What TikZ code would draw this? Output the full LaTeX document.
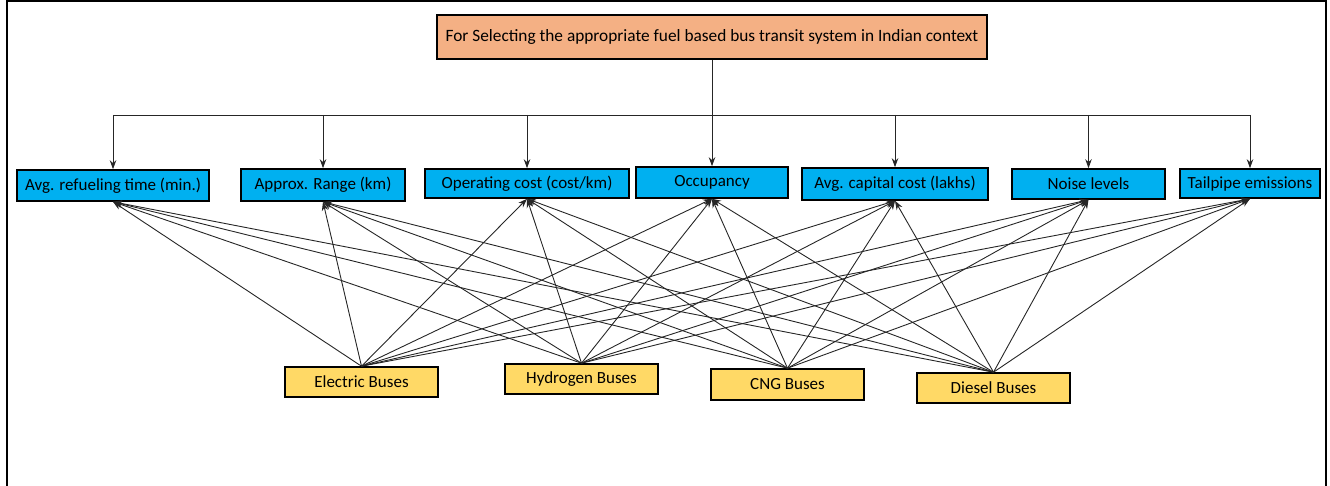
\documentclass[tikz,border=0pt]{standalone}
\usepackage{fontspec}
\setmainfont{Carlito}
\usetikzlibrary{arrows.meta}
\definecolor{goalfill}{RGB}{244,176,132}
\definecolor{critfill}{RGB}{0,176,240}
\definecolor{altfill}{RGB}{255,217,102}
\begin{document}
\begin{tikzpicture}[x=1pt,y=-1pt,
  box/.style={draw=black,line width=1.6pt,rectangle,inner sep=0pt,align=center,font=\fontsize{17}{20}\selectfont},
  goal/.style={box,fill=goalfill,minimum width=550pt,minimum height=44pt,font=\fontsize{17.3}{20}\selectfont},
  crit/.style={box,fill=critfill,minimum height=30pt},
  alt/.style={box,fill=altfill,minimum width=153pt,minimum height=30pt},
  conn/.style={line width=0.9pt,draw=black!85},
  arr/.style={conn,-{Stealth[length=9pt,width=6.5pt]}}]
\useasboundingbox (0,0) rectangle (1330,486);
% outer frame
\draw[line width=2pt] (6.5,486) -- (6.5,1.5) -- (1326,1.5) -- (1326,486);
% goal
\node[goal] (top) at (712,37) {For Selecting the appropriate fuel based bus transit system in Indian context};
% criteria
\node[crit,minimum width=192pt,minimum height=31pt] (c1) at (113,185.5) {Avg. refueling time (min.)};
\node[crit,minimum width=164pt,minimum height=32pt] (c2) at (323,185) {Approx. Range (km)};
\node[crit,minimum width=204pt,minimum height=29pt] (c3) at (527,183.5) {Operating cost (cost/km)};
\node[crit,minimum width=152pt,minimum height=31pt] (c4) at (712,182.5) {Occupancy};
\node[crit,minimum width=186pt,minimum height=32pt] (c5) at (895,184) {Avg. capital cost (lakhs)};
\node[crit,minimum width=153pt,minimum height=30pt] (c6) at (1088.5,184) {Noise levels};
\node[crit,minimum width=140pt,minimum height=29pt] (c7) at (1250,183.5) {Tailpipe emissions};
% alternatives
\node[alt] (a1) at (361.5,382) {Electric Buses};
\node[alt] (a2) at (581.5,379) {Hydrogen Buses};
\node[alt,minimum height=31pt] (a3) at (787.5,384.5) {CNG Buses};
\node[alt] (a4) at (993.5,388) {Diesel Buses};
% tree
\coordinate (bar) at (712,115);
\draw[conn] (top.south) -- (bar);
\draw[conn] (c1.north |- bar) -- (c7.north |- bar);
\foreach \c in {c1,c2,c3,c4,c5,c6,c7}
  \draw[arr] (\c.north |- bar) -- (\c.north);
% alternatives to criteria
\foreach \a in {a1,a2,a3,a4}
  \foreach \c in {c1,c2,c3,c4,c5,c6,c7}
    \draw[arr] (\a.north) -- (\c.south);
\end{tikzpicture}
\end{document}
